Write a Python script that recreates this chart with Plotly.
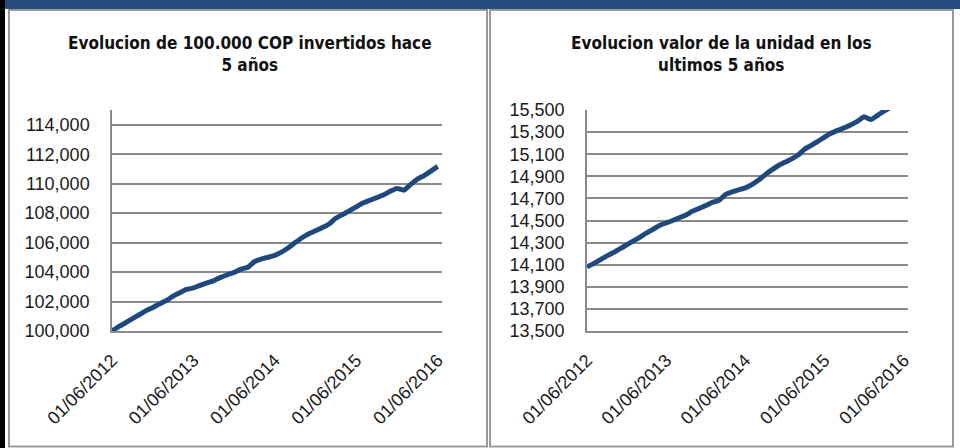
import plotly.graph_objects as go

# ---- data ----
dates = [f"{2012 + (5 + m) // 12}-{(5 + m) % 12 + 1:02d}-01" for m in range(49)]
inversion = [100000, 100300, 100560, 100840, 101100, 101380, 101600, 101850, 102080, 102360,
             102600, 102820, 102920, 103100, 103260, 103420, 103640, 103820, 103980, 104200,
             104330, 104700, 104880, 105000, 105130, 105350, 105650, 106000, 106330, 106600,
             106800, 107020, 107280, 107650, 107900, 108150, 108420, 108680, 108870, 109050,
             109230, 109480, 109680, 109560, 109950, 110300, 110550, 110850, 111170]
unidad = [14080, 14110, 14145, 14180, 14210, 14245, 14280, 14315, 14350, 14385,
          14420, 14455, 14478, 14500, 14525, 14550, 14585, 14610, 14635, 14665,
          14684, 14735, 14760, 14778, 14795, 14825, 14866, 14915, 14958, 14998,
          15028, 15058, 15095, 15145, 15180, 15215, 15255, 15290, 15316, 15340,
          15366, 15400, 15438, 15414, 15452, 15490, 15525, 15565, 15610]
x_tickvals = ["2012-06-01", "2013-06-01", "2014-06-01", "2015-06-01", "2016-06-01"]
x_ticktext = ["01/06/2012", "01/06/2013", "01/06/2014", "01/06/2015", "01/06/2016"]
y1_ticks = list(range(100000, 114001, 2000))
y2_ticks = list(range(13500, 15501, 200))
title1 = "Evolucion de 100.000 COP invertidos hace<br>5 años"
title2 = "Evolucion valor de la unidad en los<br>ultimos 5 años"

W, H = 960, 448
def px(x): return x / W
def py(y): return 1 - y / H

NAVY = "#234b7e"
LINE = "#1f497d"
GRID = "#8a8a8a"
TICKFONT = dict(family="Liberation Sans, Arial, sans-serif", size=18, color="#1a1a1a")

fig = go.Figure()
fig.add_trace(go.Scatter(x=dates, y=inversion, mode="lines", xaxis="x", yaxis="y",
                         line=dict(color=LINE, width=5, shape="spline", smoothing=0.4),
                         showlegend=False))
fig.add_trace(go.Scatter(x=dates, y=unidad, mode="lines", xaxis="x2", yaxis="y2",
                         line=dict(color=LINE, width=5, shape="spline", smoothing=0.4),
                         showlegend=False))

xcommon = dict(type="date", tickmode="array", tickvals=x_tickvals, ticktext=x_ticktext,
               tickangle=-45, showgrid=False, showline=True, linecolor=GRID, linewidth=1.5,
               ticks="outside", ticklen=10, tickcolor="rgba(0,0,0,0)", tickfont=TICKFONT,
               zeroline=False, fixedrange=True, automargin=False)
ycommon = dict(showgrid=True, gridcolor=GRID, gridwidth=1.5, showline=True, linecolor=GRID,
               linewidth=1.5, ticks="outside", ticklen=17, tickcolor="rgba(0,0,0,0)",
               tickfont=TICKFONT, tickformat=",", zeroline=False, tickmode="array",
               automargin=False)

fig.update_layout(
    width=W, height=H, margin=dict(l=0, r=0, t=0, b=0, autoexpand=False),
    paper_bgcolor="white", plot_bgcolor="white",
    xaxis=dict(domain=[px(112), px(442)], range=["2012-06-01", "2016-06-20"], anchor="y", **xcommon),
    yaxis=dict(domain=[py(331), py(110)], range=[100000, 115000], tickvals=y1_ticks, anchor="x", **ycommon),
    xaxis2=dict(domain=[px(587), px(908)], range=["2012-06-01", "2016-06-20"], anchor="y2", **xcommon),
    yaxis2=dict(domain=[py(331), py(110)], range=[13500, 15500], tickvals=y2_ticks, anchor="x2", **ycommon),
)

P = dict(xref="paper", yref="paper")
shapes = [
    dict(type="rect", x0=px(5), x1=1, y0=py(9), y1=1, fillcolor=NAVY, line_width=0, **P),
    dict(type="rect", x0=0, x1=px(5), y0=0, y1=1, fillcolor="black", line_width=0, **P),
    dict(type="rect", x0=px(9), x1=px(487), y0=py(446.5), y1=py(10), fillcolor="rgba(0,0,0,0)",
         line=dict(color="#9a9a9a", width=2), **P),
    dict(type="rect", x0=px(490), x1=px(953), y0=py(446.5), y1=py(10), fillcolor="rgba(0,0,0,0)",
         line=dict(color="#9a9a9a", width=2), **P),
]
fig.update_layout(shapes=shapes)

TFONT = dict(family="Liberation Sans Narrow, Arial Narrow, DejaVu Sans Condensed, sans-serif",
             size=17, color="#111111")
fig.add_annotation(text="<b>" + title1.replace("<br>", "</b><br><b>") + "</b>", x=px(250), y=py(54),
                   showarrow=False, xanchor="center", yanchor="middle",
                   font=TFONT, align="center", **P)
fig.add_annotation(text="<b>" + title2.replace("<br>", "</b><br><b>") + "</b>", x=px(721), y=py(54),
                   showarrow=False, xanchor="center", yanchor="middle",
                   font=TFONT, align="center", **P)

fig.write_html("out.html", config={"displayModeBar": False},
               post_script="document.body.style.margin='0';document.body.style.overflow='hidden';")
